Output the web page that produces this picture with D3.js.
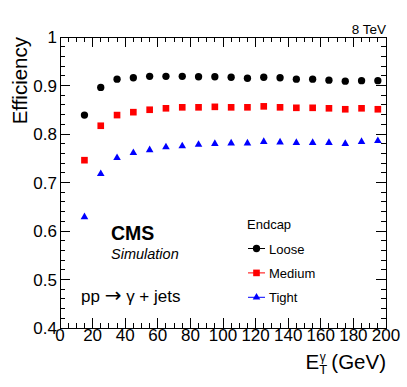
<!DOCTYPE html>
<html>
<head>
<meta charset="utf-8">
<script src="https://cdn.jsdelivr.net/npm/d3@7"></script>
<style>
body { margin: 0; background: #fff; }
text { font-family: "Liberation Sans", Arial, sans-serif; }
</style>
</head>
<body>
<div id="main"></div>
<script>
// photon pT bin centres (GeV)
var etBins = [15, 25, 35, 45, 55, 65, 75, 85, 95, 105, 115, 125, 135, 145, 155, 165, 175, 185, 195];
var looseEff = [0.839, 0.896, 0.913, 0.916, 0.919, 0.919, 0.919, 0.918, 0.918, 0.917, 0.915, 0.917, 0.916, 0.913, 0.913, 0.911, 0.909, 0.910, 0.910];
var mediumEff = [0.746, 0.817, 0.839, 0.845, 0.850, 0.853, 0.855, 0.855, 0.856, 0.855, 0.855, 0.857, 0.855, 0.854, 0.854, 0.853, 0.851, 0.853, 0.851];
var tightEff = [0.629, 0.718, 0.751, 0.761, 0.767, 0.773, 0.775, 0.778, 0.780, 0.781, 0.781, 0.784, 0.783, 0.782, 0.782, 0.782, 0.780, 0.784, 0.786];
var xTicks = [0, 20, 40, 60, 80, 100, 120, 140, 160, 180, 200];
var yTicks = [0.4, 0.5, 0.6, 0.7, 0.8, 0.9, 1];
var seriesNames = ["Loose", "Medium", "Tight"];

var W = 407, H = 387;
var pL = 60, pR = 386, pT = 37, pB = 328;

var svg = d3.select("#main").append("svg")
    .attr("width", W)
    .attr("height", H);

var x = d3.scaleLinear().domain([0, 200]).range([pL, pR]);
var y = d3.scaleLinear().domain([0.4, 1]).range([pB, pT]);

// ticks on all four sides, ROOT style (inward)
var xMinor = d3.range(0, 201, 5);
var yMinor = d3.range(0, 31).map(function(i) { return 0.4 + i * 0.02; });

function isMajorX(v) { return v % 20 === 0; }
function isMajorY(v) { return Math.abs(v * 10 - Math.round(v * 10)) < 1e-6; }

var tk = svg.append("g").attr("stroke", "#000").attr("stroke-width", 1).attr("shape-rendering", "crispEdges");
xMinor.forEach(function(v) {
  var len = isMajorX(v) ? 10 : 5;
  tk.append("line").attr("x1", x(v)).attr("x2", x(v)).attr("y1", pB).attr("y2", pB - len);
  tk.append("line").attr("x1", x(v)).attr("x2", x(v)).attr("y1", pT).attr("y2", pT + len);
});
yMinor.forEach(function(v) {
  var len = isMajorY(v) ? 10 : 5;
  tk.append("line").attr("x1", pL).attr("x2", pL + len).attr("y1", y(v)).attr("y2", y(v));
  tk.append("line").attr("x1", pR).attr("x2", pR - len).attr("y1", y(v)).attr("y2", y(v));
});

svg.append("rect")
    .attr("x", pL).attr("y", pT)
    .attr("width", pR - pL).attr("height", pB - pT)
    .attr("fill", "none").attr("stroke", "#000").attr("stroke-width", 1)
    .attr("shape-rendering", "crispEdges");

// tick labels
svg.selectAll(".xl").data(xTicks).enter().append("text")
    .attr("x", function(d) { return x(d); })
    .attr("y", pB + 13)
    .attr("text-anchor", "middle")
    .style("font-size", "17px")
    .text(function(d) { return d; });

svg.selectAll(".yl").data(yTicks).enter().append("text")
    .attr("x", pL - 3)
    .attr("y", function(d) { return y(d) + 6; })
    .attr("text-anchor", "end")
    .style("font-size", "17px")
    .text(function(d) { return d === 1 ? "1" : d.toFixed(1); });

// axis titles
svg.append("text")
    .attr("transform", "translate(27," + pT + ") rotate(-90)")
    .attr("text-anchor", "end")
    .style("font-size", "20.5px")
    .text("Efficiency");

var xt = svg.append("text")
    .attr("x", pR)
    .attr("y", 369)
    .attr("text-anchor", "end")
    .style("font-size", "20.5px");
xt.append("tspan").text("E");
xt.append("tspan").attr("dy", 5).style("font-size", "13px").text("T");
xt.append("tspan").attr("dx", -7.5).attr("dy", -13).style("font-size", "12px").text("γ");
xt.append("tspan").attr("dy", 8).text(" (GeV)");

svg.append("text")
    .attr("x", pR).attr("y", 34)
    .attr("text-anchor", "end")
    .style("font-size", "13.5px")
    .text("8 TeV");

svg.append("text")
    .attr("x", 111).attr("y", 240)
    .style("font-size", "19.5px").style("font-weight", "bold")
    .text("CMS");
svg.append("text")
    .attr("x", 111).attr("y", 259)
    .style("font-size", "14.5px").style("font-style", "italic")
    .text("Simulation");
var proc = svg.append("text")
    .attr("x", 81).attr("y", 302)
    .style("font-size", "17px");
proc.append("tspan").text("pp ");
proc.append("tspan").style("font-family", "'DejaVu Sans'").style("font-size", "20px").attr("dy", 0).text("\u2192");
proc.append("tspan").text(" \u03b3 + jets");

// markers
var series = [
  { name: seriesNames[0], vals: looseEff, color: "#000", shape: d3.symbolCircle, size: 42 },
  { name: seriesNames[1], vals: mediumEff, color: "#ff0000", shape: d3.symbolSquare, size: 44 },
  { name: seriesNames[2], vals: tightEff, color: "#0000ff", shape: d3.symbolTriangle, size: 25 }
];

series.forEach(function(s) {
  var sym = d3.symbol().type(s.shape).size(s.size);
  svg.append("g").selectAll("path")
      .data(etBins.map(function(e, i) { return { e: e, v: s.vals[i] }; }))
      .enter().append("path")
      .attr("d", sym)
      .attr("transform", function(d) { return "translate(" + x(d.e) + "," + y(d.v) + ")"; })
      .attr("fill", s.color);
});

// legend
svg.append("text")
    .attr("x", 247).attr("y", 229)
    .style("font-size", "13px")
    .text("Endcap");

var lg = svg.selectAll(".lg").data(series).enter().append("g")
    .attr("transform", function(d, i) { return "translate(0," + (248.5 + i * 24.4) + ")"; });
lg.append("line")
    .attr("x1", 248).attr("x2", 265)
    .attr("stroke", function(d) { return d.color; })
    .attr("stroke-width", 1);
lg.append("path")
    .attr("d", function(d) { return d3.symbol().type(d.shape).size(d.size)(); })
    .attr("transform", "translate(256.5,0)")
    .attr("fill", function(d) { return d.color; });
lg.append("text")
    .attr("x", 269).attr("y", 5)
    .style("font-size", "13px")
    .text(function(d) { return d.name; });
</script>
</body>
</html>
